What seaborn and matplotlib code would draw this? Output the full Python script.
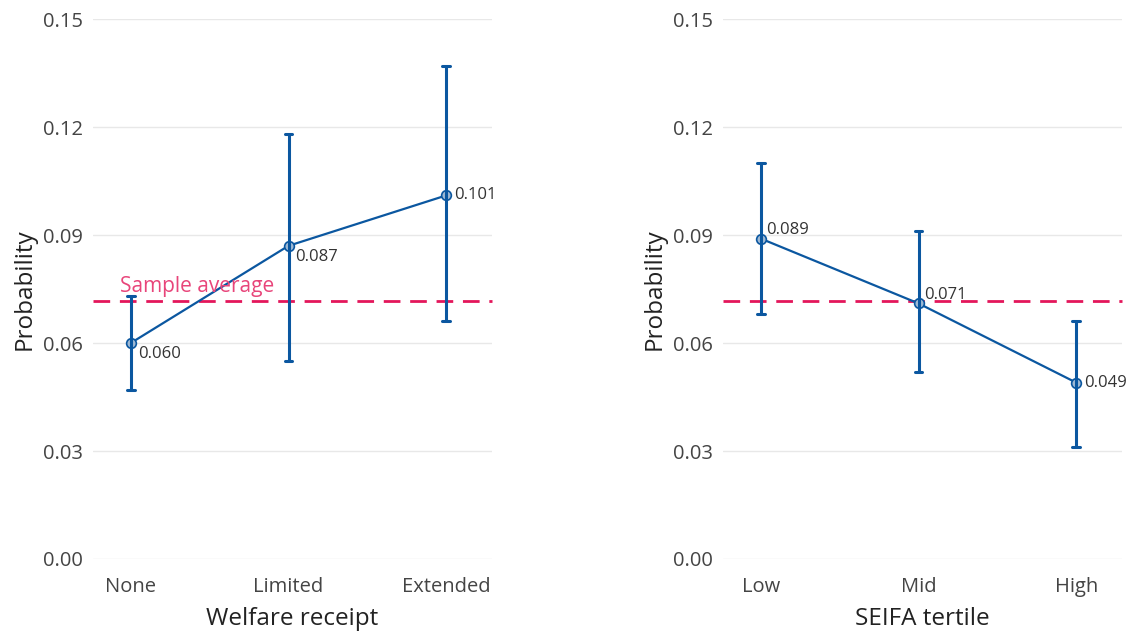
import pandas as pd
import numpy as np
import matplotlib.pyplot as plt
import seaborn as sns

welfare_cats = ["None", "Limited", "Extended"]
welfare_est = [0.060, 0.087, 0.101]
welfare_lo = [0.047, 0.055, 0.066]
welfare_hi = [0.073, 0.118, 0.137]

seifa_cats = ["Low", "Mid", "High"]
seifa_est = [0.089, 0.071, 0.049]
seifa_lo = [0.068, 0.052, 0.031]
seifa_hi = [0.110, 0.091, 0.066]

sample_avg = 0.0717
yticks = [0.00, 0.03, 0.06, 0.09, 0.12, 0.15]

blue = "#0b57a0"
pink = "#e3165b"

sns.set_theme(style="white")
plt.rcParams["font.family"] = ["Open Sans", "DejaVu Sans"]


def long_frame(cats, lo, est, hi):
    # three rows per category: median = estimate, min/max = interval ends
    rows = []
    for c, a, b, d in zip(cats, lo, est, hi):
        for v in (a, b, d):
            rows.append({"cat": c, "value": v})
    return pd.DataFrame(rows)


fig = plt.figure(figsize=(11.27, 6.34), dpi=100)
ax1 = fig.add_axes([0.0825, 0.1183, 0.354, 0.8517])
ax2 = fig.add_axes([0.6415, 0.1183, 0.354, 0.8517])

panels = [
    (ax1, welfare_cats, welfare_lo, welfare_est, welfare_hi, "Welfare receipt",
     [(5, -8), (5, -8), (6, 0)]),
    (ax2, seifa_cats, seifa_lo, seifa_est, seifa_hi, "SEIFA tertile",
     [(4, 6), (4, 6), (6, 0)]),
]

for ax, cats, lo, est, hi, xlabel, offs in panels:
    df = long_frame(cats, lo, est, hi)
    ax.axhline(sample_avg, color=pink, linestyle=(0, (6, 3.5)), linewidth=2, zorder=1)
    sns.pointplot(data=df, x="cat", y="value", order=cats, estimator="median",
                  errorbar=("pi", 100), color=blue, capsize=0.05,
                  linewidth=1.6, err_kws={"linewidth": 2.2},
                  marker="o", markersize=7, ax=ax, zorder=3)
    for line in ax.lines:
        if line.get_marker() not in (None, "None", ""):
            line.set_markerfacecolor("#9fb9d4")
            line.set_markeredgecolor(blue)
            line.set_markeredgewidth(1.2)
    for i, v in enumerate(est):
        ax.annotate(f"{v:.3f}", (i, v), xytext=offs[i], textcoords="offset points",
                    ha="left", va="center", fontsize=12, color="#333333")
    ax.set_ylim(0, 0.15)
    ax.set_xlim(-0.24, 2.29)
    ax.set_yticks(yticks)
    ax.set_yticklabels([f"{t:.2f}" for t in yticks])
    ax.grid(axis="y", color="#e8e8e8", linewidth=1)
    ax.grid(axis="x", visible=False)
    sns.despine(ax=ax, left=True, bottom=True)
    ax.tick_params(axis="both", length=0, labelsize=14.5, labelcolor="#444444")
    ax.tick_params(axis="x", pad=13)
    ax.tick_params(axis="y", pad=7)
    ax.set_xlabel(xlabel, fontsize=17.5, color="#222222", labelpad=7)
    ax.set_ylabel("Probability", fontsize=17.5, color="#222222", labelpad=5)
    for child in ax.get_children():
        if hasattr(child, "set_clip_on"):
            child.set_clip_on(False)

ax1.text(-0.07, sample_avg + 0.0012, "Sample average", color="#e8457a",
         fontsize=15, ha="left", va="bottom")

fig.savefig("out.png", dpi=100)
